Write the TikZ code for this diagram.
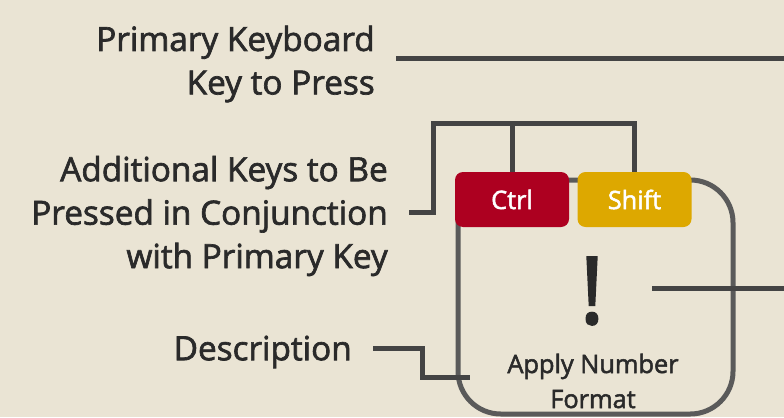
\documentclass[tikz,border=0pt]{standalone}
\usepackage{fontspec}
\setmainfont{Open Sans}[FakeBold=2]
\usepackage{xcolor}
\definecolor{paper}{HTML}{EAE4D4}
\definecolor{wirecol}{HTML}{444444}
\definecolor{cardcol}{HTML}{5A5A5A}
\definecolor{inkcol}{HTML}{2A2A2A}
\definecolor{ctrlred}{HTML}{AD0020}
\definecolor{shiftgold}{HTML}{DDA800}

\begin{document}
\begin{tikzpicture}[x=0.75pt, y=-0.75pt,
        wire/.style={draw=wirecol, line width=3.75pt},
        callout/.style={text=inkcol, align=right, anchor=east, inner sep=0pt, font=\fontsize{25}{32.6}\selectfont},
        keycap/.style={rectangle, rounded corners=6pt, minimum width=85.5pt, minimum height=41.25pt, inner sep=0pt, text=white, font=\fontsize{19}{22}\selectfont}]
            \fill[paper] (0, 0) rectangle (784, 417);
            \useasboundingbox (0, 0) rectangle (784, 417);

            \node[rectangle, draw=cardcol, line width=3.75pt, rounded corners=32pt, minimum width=206.25pt, minimum height=175.5pt] (card) at (595.5, 297) {};
            \node[keycap, fill=ctrlred] (ctrl) at (512, 199.5) {Ctrl};
            \node[keycap, fill=shiftgold] (shift) at (634.5, 199.5) {Shift};

            \node[text=inkcol, inner sep=0pt, font=\fontsize{70}{70}\selectfont] (bang) at (592, 291) {!};
            \node[text=inkcol, align=center, inner sep=0pt, font=\fontsize{19}{26.25}\selectfont] (action) at (593, 381) {Apply Number\\Format};

            \node[callout] (primary) at (375, 64) {Primary Keyboard\\Key to Press};
            \node[callout] (extra) at (388, 216) {Additional Keys to Be\\Pressed in Conjunction\\with Primary Key};
            \node[callout] (desc) at (352, 352) {Description};

            \coordinate (primaryend) at (784, 59);
            \coordinate (hub) at (433, 124);
            \coordinate (bangend) at (784, 288);
            \coordinate (descbend) at (422, 377);
            \coordinate (descend) at (470, 377);

            \draw[wire] ([shift={(21, -5)}]primary.east) -- (primaryend);
            \draw[wire] ([shift={(21, -4)}]extra.east) -| (hub) -| (shift.north);
            \draw[wire] (ctrl.north) -- (ctrl.north |- hub);
            \draw[wire] ([shift={(60, -3)}]bang.center) -- (bangend);
            \draw[wire] ([shift={(21, -4)}]desc.east) -| (descbend) -- (descend);
        \end{tikzpicture}
\end{document}
